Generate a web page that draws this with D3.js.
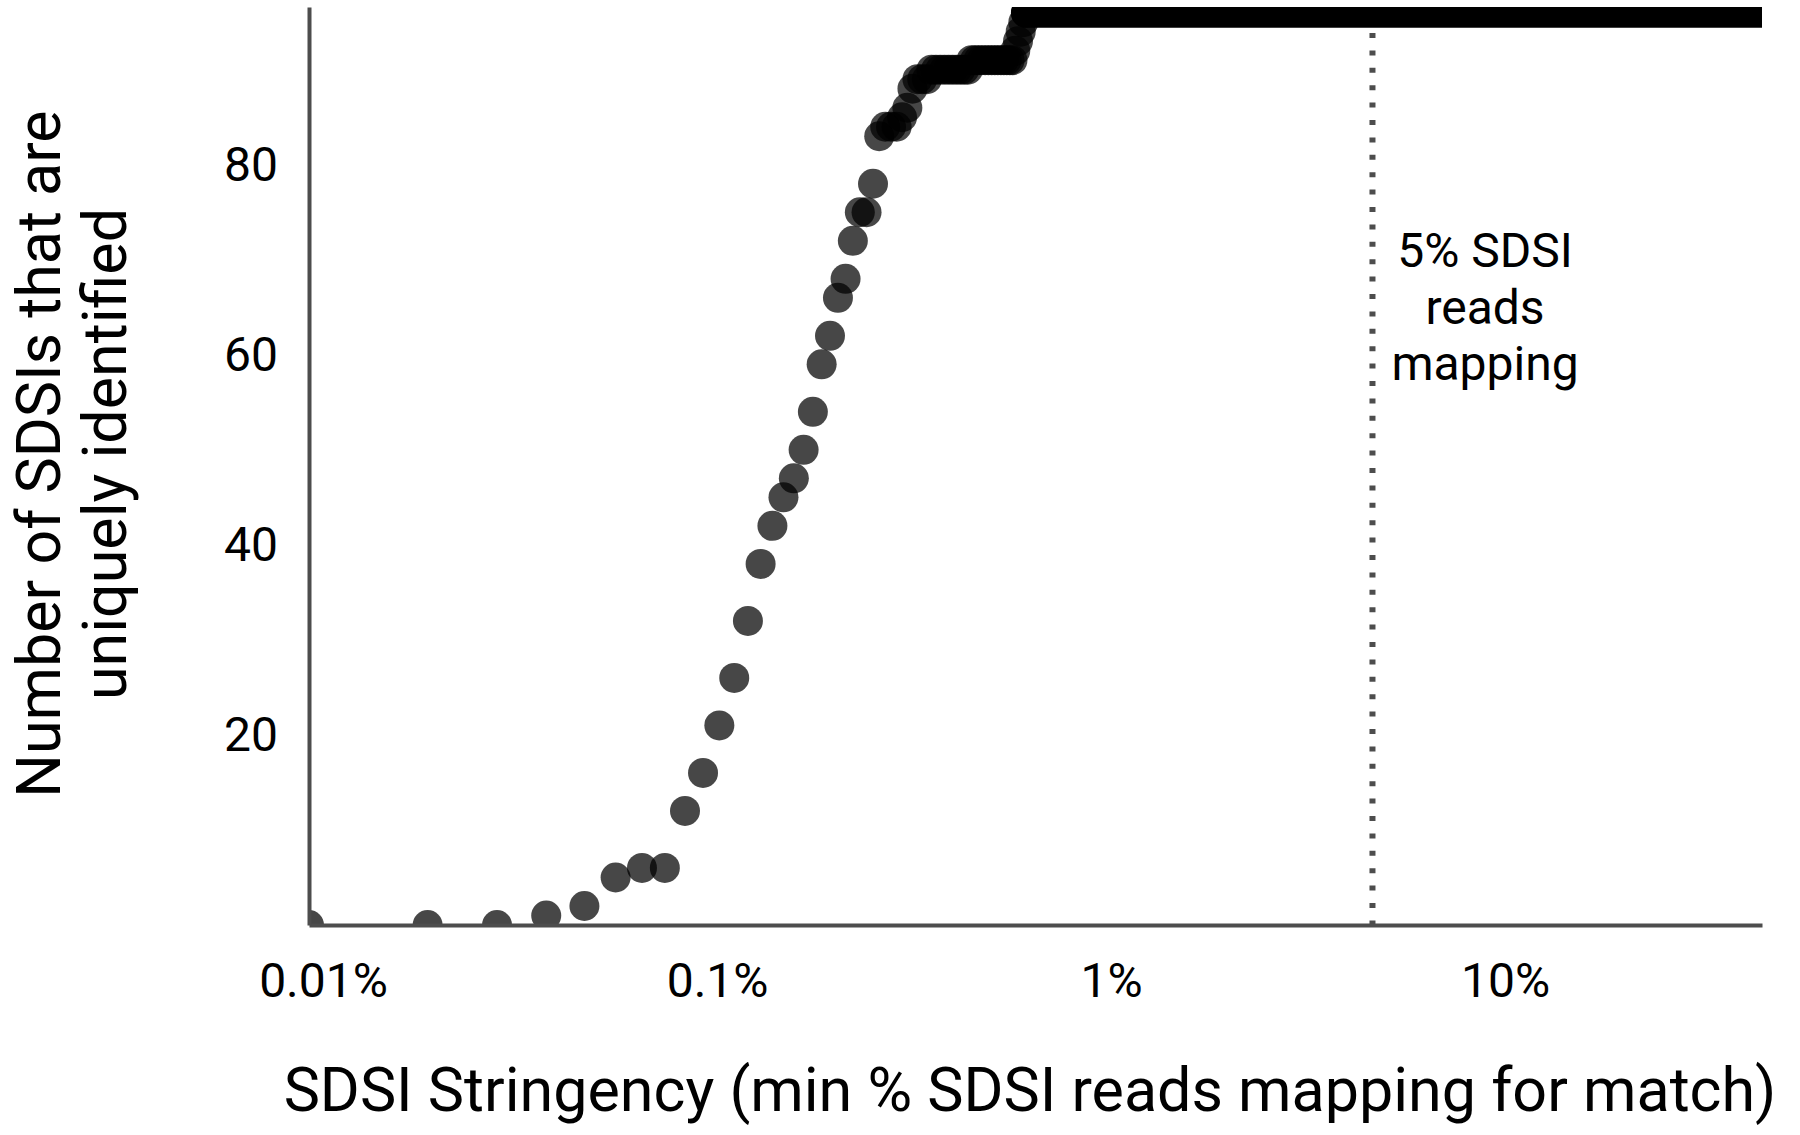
<!DOCTYPE html>
<html>
<head>
<meta charset="utf-8">
<script src="https://cdn.jsdelivr.net/npm/d3@7"></script>
<style>
  html, body { margin: 0; padding: 0; background: #fff; }
  text { font-family: Roboto, "Noto Sans", sans-serif; fill: #000; }
</style>
</head>
<body>
<div id="chart"></div>
<script>
// Stringency thresholds (% of SDSI reads) and number of SDSIs uniquely identified
const stringency = [
  0.01, 0.02, 0.03, 0.04, 0.05, 0.06, 0.07, 0.08, 0.09, 0.10,
  0.11, 0.12, 0.13, 0.14, 0.15, 0.16, 0.17, 0.18, 0.19, 0.20,
  0.21, 0.22, 0.23, 0.24, 0.25, 0.26, 0.27, 0.28, 0.29, 0.30,
  0.31, 0.32, 0.33, 0.34, 0.35, 0.36, 0.37, 0.38, 0.39, 0.40,
  0.41, 0.42, 0.43, 0.44, 0.45, 0.46, 0.47, 0.48, 0.49, 0.50,
  0.51, 0.52, 0.53, 0.54, 0.55, 0.56, 0.57, 0.58, 0.59, 0.60,
  0.61, 0.62, 0.63, 0.64, 0.65, 0.66
];
const identified = [
  0, 0, 0, 1, 2, 5, 6, 6, 12, 16,
  21, 26, 32, 38, 42, 45, 47, 50, 54, 59,
  62, 66, 68, 72, 75, 75, 78, 83, 84, 84,
  84, 85, 86, 88, 89, 89, 89, 90, 90, 90,
  90, 90, 90, 90, 90, 90, 90, 91, 91, 91,
  91, 91, 91, 91, 91, 91, 91, 91, 91, 91,
  91, 92, 93, 94, 95, 96
];
// plateau: every SDSI identified from here to the right edge
const plateauStringency = [0.66, 0.7, 0.8, 0.9, 1, 2, 5, 10, 20, 50];
const plateauCount = 96;

const xTicks = [0.01, 0.1, 1, 10];
const xTickLabels = ["0.01%", "0.1%", "1%", "10%"];
const yTicks = [20, 40, 60, 80];
const thresholdLine = 5;
const thresholdLabel = ["5% SDSI", "reads", "mapping"];

const width = 1800, height = 1135;
const plot = { left: 309, right: 1762, top: 7, bottom: 925 };

const svg = d3.select("#chart").append("svg")
  .attr("width", width)
  .attr("height", height)
  .style("background", "#fff");

const x = d3.scaleLog()
  .domain([0.01, 48.7])
  .range([plot.left, plot.right]);

const y = d3.scaleLinear()
  .domain([0, 96.6])
  .range([plot.bottom, plot.top]);

svg.append("clipPath").attr("id", "plotClip")
  .append("rect")
  .attr("x", plot.left).attr("y", plot.top)
  .attr("width", plot.right - plot.left)
  .attr("height", plot.bottom - plot.top);

// dotted 5% line
svg.append("line")
  .attr("x1", x(thresholdLine)).attr("x2", x(thresholdLine))
  .attr("y1", plot.top + 26).attr("y2", plot.bottom)
  .attr("stroke", "#4d4d4d")
  .attr("stroke-width", 6)
  .attr("stroke-dasharray", "5,12.4");

svg.append("g").selectAll("text")
  .data(thresholdLabel)
  .join("text")
  .attr("x", 1485)
  .attr("y", (d, i) => 267 + i * 56.5)
  .attr("text-anchor", "middle")
  .style("font-size", "48px")
  .text(d => d);

const points = stringency.map((s, i) => ({ s, n: identified[i] }));
const plateau = plateauStringency.map(s => ({ s, n: plateauCount }));

const marks = svg.append("g").attr("clip-path", "url(#plotClip)");

marks.append("path")
  .datum(plateau)
  .attr("fill", "none")
  .attr("stroke", "#000")
  .attr("stroke-width", 30)
  .attr("stroke-linecap", "round")
  .attr("d", d3.line().x(d => x(d.s)).y(d => y(d.n)));

marks.selectAll("circle")
  .data(points)
  .join("circle")
  .attr("cx", d => x(d.s))
  .attr("cy", d => y(d.n))
  .attr("r", 15)
  .attr("fill", "#000")
  .attr("fill-opacity", 0.72);

// axes
const xAxis = svg.append("g")
  .attr("transform", `translate(0,${plot.bottom})`)
  .call(d3.axisBottom(x)
    .tickValues(xTicks)
    .tickFormat((d, i) => xTickLabels[i])
    .tickSize(0)
    .tickSizeOuter(0));
xAxis.select(".domain").attr("stroke", "#4d4d4d").attr("stroke-width", 4);
xAxis.selectAll("text")
  .attr("y", 72).attr("dy", 0).attr("dx", 14)
  .style("font-size", "48px")
  .style("font-family", "Roboto, sans-serif")
  .attr("fill", "#000");

const yAxis = svg.append("g")
  .attr("transform", `translate(${plot.left},0)`)
  .call(d3.axisLeft(y)
    .tickValues(yTicks)
    .tickSize(0)
    .tickSizeOuter(0)
    .tickPadding(31));
yAxis.select(".domain").attr("stroke", "#4d4d4d").attr("stroke-width", 4);
yAxis.selectAll("text")
  .style("font-size", "48px")
  .style("font-family", "Roboto, sans-serif")
  .attr("fill", "#000");

// axis titles
svg.append("text")
  .attr("x", 1030).attr("y", 1111)
  .attr("text-anchor", "middle")
  .style("font-size", "61px")
  .text("SDSI Stringency (min % SDSI reads mapping for match)");

const yTitle = svg.append("text")
  .attr("transform", "translate(60,454) rotate(-90)")
  .attr("text-anchor", "middle")
  .style("font-size", "61px");
yTitle.append("tspan").attr("x", 0).attr("y", 0).text("Number of SDSIs that are");
yTitle.append("tspan").attr("x", 0).attr("y", 66).text("uniquely identified");
</script>
</body>
</html>
